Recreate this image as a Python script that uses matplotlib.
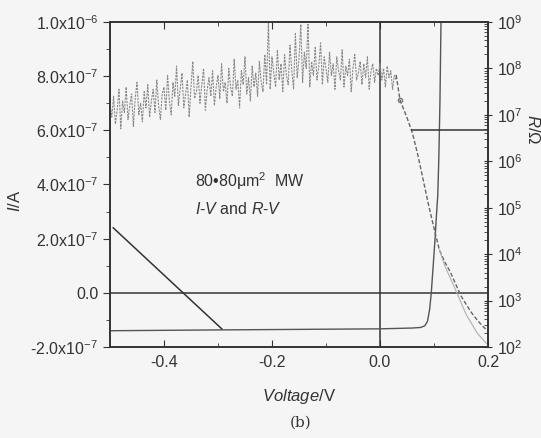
import numpy as np
import matplotlib
matplotlib.use("Agg")
import matplotlib.pyplot as plt
from matplotlib.ticker import FixedLocator, MultipleLocator, LogLocator, NullFormatter

plt.rcParams["font.family"] = ["Liberation Sans", "DejaVu Sans"]
plt.rcParams["mathtext.fontset"] = "custom"
plt.rcParams["mathtext.rm"] = "Liberation Sans"
plt.rcParams["mathtext.it"] = "Liberation Sans:italic"

# R-V, noisy part (log10 of R in ohm), sweep -0.5 V .. 0.03 V
noisy_v_start = -0.5
noisy_v_end = 0.03
noisy_log_r = [
    7.25, 6.95, 7.40, 6.80, 7.10, 7.55, 6.70, 7.30, 7.05, 7.60,
    6.90, 7.20, 7.45, 6.75, 7.35, 7.70, 7.00, 7.25, 6.85, 7.50,
    7.15, 7.65, 6.95, 7.30, 7.55, 7.05, 7.75, 7.20, 6.90, 7.45,
    7.60, 7.10, 7.85, 7.30, 7.00, 7.70, 7.40, 8.05, 7.20, 7.55,
    7.90, 7.15, 7.45, 7.75, 6.95, 7.60, 8.15, 7.35, 7.50, 7.85,
    7.25, 7.65, 8.00, 7.10, 7.55, 7.80, 7.40, 7.95, 7.20, 7.60,
    7.85, 7.35, 8.10, 7.50, 7.70, 7.25, 8.00, 7.60, 7.40, 8.20,
    7.55, 7.75, 7.15, 7.95, 7.65, 8.25, 7.45, 7.80, 7.30, 8.05,
    7.60, 7.90, 7.40, 8.15, 7.70, 7.50, 8.30, 7.65, 9.00, 7.55,
    8.25, 7.90, 7.60, 8.40, 7.75, 8.10, 7.50, 8.30, 7.85, 7.65,
    8.50, 7.95, 7.55, 8.75, 7.80, 8.20, 8.95, 7.70, 8.35, 8.00,
    8.95, 7.60, 8.15, 7.85, 8.45, 7.75, 8.05, 8.55, 7.65, 8.25,
    8.00, 7.70, 8.35, 7.85, 8.10, 7.55, 8.25, 7.95, 7.75, 8.40,
    7.60, 8.05, 7.85, 8.20, 7.50, 8.00, 8.30, 7.75, 7.90, 8.15,
    7.65, 8.10, 7.80, 8.25, 7.55, 7.95, 8.10, 7.70, 8.00, 7.85,
    8.10, 7.75, 8.00, 7.60, 8.05, 7.80, 7.95, 7.55, 7.85, 7.75,
]

# R-V, forward-bias decay
decay_v = [0.030, 0.037, 0.05, 0.06, 0.07, 0.08, 0.09, 0.10, 0.11,
           0.12, 0.13, 0.14, 0.15, 0.16, 0.17, 0.18, 0.19, 0.20]
decay_log_r = [7.86, 7.32, 6.94, 6.61, 6.14, 5.60, 5.06, 4.56, 4.09,
               3.83, 3.62, 3.36, 3.10, 2.91, 2.73, 2.58, 2.45, 2.34]
decay2_v = [0.11, 0.12, 0.14, 0.16, 0.18, 0.20]
decay2_log_r = [4.09, 3.75, 3.23, 2.69, 2.30, 2.04]

# I-V
iv_v = [-0.5, -0.3, 0.0, 0.06, 0.075, 0.083, 0.088, 0.092, 0.095,
        0.098, 0.102, 0.105, 0.107, 0.109, 0.111, 0.113]
iv_i = [-1.40e-7, -1.37e-7, -1.33e-7, -1.30e-7, -1.28e-7, -1.22e-7,
        -1.05e-7, -6e-8, 0.0, 8.5e-8, 2.0e-7, 3.0e-7, 3.6e-7, 5e-7,
        7e-7, 1.0e-6]

diag_v = [-0.494, -0.293]
diag_i = [2.4e-7, -1.33e-7]

hline_v = [0.059, 0.2]
hline_r = [4.8e6, 4.8e6]

left_ticks = [-2e-7, 0.0, 2e-7, 4e-7, 6e-7, 8e-7, 1e-6]
left_labels = [
    "-2.0x10$^{-7}$", "0.0", "2.0x10$^{-7}$", "4.0x10$^{-7}$",
    "6.0x10$^{-7}$", "8.0x10$^{-7}$", "1.0x10$^{-6}$",
]
x_ticks = [-0.4, -0.2, 0.0, 0.2]
x_labels = ["-0.4", "-0.2", "0.0", "0.2"]
right_ticks = [1e2, 1e3, 1e4, 1e5, 1e6, 1e7, 1e8, 1e9]
right_labels = ["10$^{%d}$" % k for k in range(2, 10)]

bg = "#f5f5f5"
dark = "#333333"
grey = "#8a8a8a"

fig = plt.figure(figsize=(5.41, 4.38), dpi=100, facecolor=bg)
ax = fig.add_axes([0.2033, 0.2078, 0.6987, 0.742])
ax.set_facecolor(bg)
ax2 = ax.twinx()

ax.set_xlim(-0.5, 0.2)
ax.set_ylim(-2e-7, 1e-6)
ax2.set_yscale("log")
ax2.set_ylim(1e2, 1e9)

# zero lines
ax.axhline(0.0, color=dark, lw=1.1)
ax.axvline(0.0, color=dark, lw=1.1)

ax.plot(iv_v, iv_i, color="#555555", lw=1.0)
ax.plot(diag_v, diag_i, color=dark, lw=1.1)

noisy_v = np.linspace(noisy_v_start, noisy_v_end, len(noisy_log_r))
ax2.plot(noisy_v, 10 ** np.array(noisy_log_r), color=grey, lw=0.8,
         ls=(0, (2, 1)))
ax2.plot(decay_v, 10 ** np.array(decay_log_r), color="#666666", lw=1.0,
         ls=(0, (3, 1.5)))
ax2.plot(decay2_v, 10 ** np.array(decay2_log_r), color="#b0b0b0", lw=0.8)
ax2.plot([0.037], [10 ** 7.32], marker="o", ms=3, mfc="none",
         mec="#777777", lw=0)
ax2.plot(hline_v, hline_r, color=dark, lw=1.1)

ax.xaxis.set_major_locator(FixedLocator(x_ticks))
ax.set_xticklabels(x_labels)
ax.xaxis.set_minor_locator(MultipleLocator(0.1))
ax.yaxis.set_major_locator(FixedLocator(left_ticks))
ax.set_yticklabels(left_labels)
ax.yaxis.set_minor_locator(MultipleLocator(1e-7))

ax2.yaxis.set_major_locator(FixedLocator(right_ticks))
ax2.set_yticklabels(right_labels)
ax2.yaxis.set_minor_locator(LogLocator(base=10, subs=np.arange(2, 10)))
ax2.yaxis.set_minor_formatter(NullFormatter())

ax.tick_params(axis="x", which="both", direction="in", top=True,
               labelsize=11.5, colors=dark, pad=6)
ax.tick_params(axis="x", which="major", length=5)
ax.tick_params(axis="x", which="minor", length=3)
ax.tick_params(axis="y", which="both", direction="out", labelsize=11.5,
               colors=dark)
ax.tick_params(axis="y", which="major", length=5)
ax.tick_params(axis="y", which="minor", length=3)
ax2.tick_params(axis="y", which="major", direction="inout", length=6,
                labelsize=11.5, colors=dark)
ax2.tick_params(axis="y", which="minor", direction="in", length=3,
                colors=dark)

for a in (ax, ax2):
    for s in a.spines.values():
        s.set_color(dark)
        s.set_linewidth(1.2)

ax.set_ylabel("$I$/A", fontsize=12, color=dark)
ax.yaxis.set_label_coords(-0.23, 0.45)
ax2.set_ylabel("$R$/Ω", fontsize=12, color=dark, rotation=-90)
ax2.yaxis.set_label_coords(1.14, 0.67)
ax.set_xlabel("$Voltage$/V", fontsize=12, color=dark, labelpad=12)

ax.text(-0.343, 3.9e-7, "80•80μm$^2$  MW", fontsize=11.5, color=dark)
ax.text(-0.343, 2.9e-7, "$I$-$V$ and $R$-$V$", fontsize=11.5, color=dark)

fig.text(0.555, 0.025, "(b)", fontsize=11, family="DejaVu Serif",
         color=dark, ha="center")

fig.savefig("out.png", dpi=100, facecolor=bg)
